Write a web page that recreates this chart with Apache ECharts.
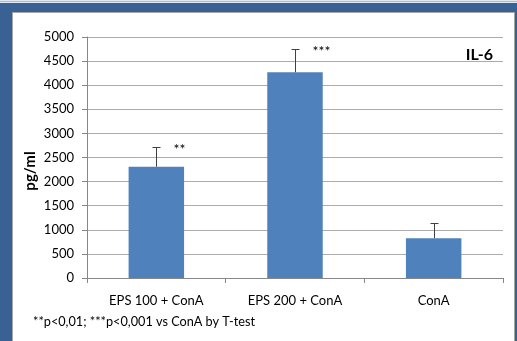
<!DOCTYPE html>
<html>
<head>
<meta charset="utf-8">
<script src="https://cdn.jsdelivr.net/npm/echarts@6/dist/echarts.min.js"></script>
<style>
  html, body { margin: 0; padding: 0; background: #ffffff; }
  #chart { width: 517px; height: 341px; }
</style>
</head>
<body>
<div id="chart"></div>
<script>
// IL-6 production (pg/ml) after ConA stimulation, with/without EPS
const categories = ['EPS 100 + ConA', 'EPS 200 + ConA', 'ConA'];
const means = [2310, 4270, 826];
const sd = [400, 490, 324];
const marks = ['**', '***', ''];
const yTicks = { min: 0, max: 5000, interval: 500 };

const FONT = 'Lato, "Open Sans", sans-serif';
const FRAME_BLUE = '#3a6194';

const errorData = categories.map((c, i) => [i, means[i] + sd[i], means[i], marks[i]]);

const chart = echarts.init(document.getElementById('chart'), null, { renderer: 'canvas' });

chart.setOption({
  backgroundColor: FRAME_BLUE,
  animation: false,
  graphic: [
    // light strip along the top edge
    { type: 'rect', shape: { x: 0, y: 0, width: 517, height: 3 }, style: { fill: '#dfe7f1' }, z: -10 },
    { type: 'rect', shape: { x: 0, y: 1, width: 517, height: 1 }, style: { fill: '#aabfd8' }, z: -10 },
    // white panel
    { type: 'rect', shape: { x: 12.5, y: 12.5, width: 502, height: 340 },
      style: { fill: '#ffffff', stroke: '#a6a6a6', lineWidth: 1 }, z: -9 },
    // y axis title
    { type: 'text', x: 30, y: 171, rotation: Math.PI / 2,
      style: { text: 'pg/ml', font: 'bold 15px ' + FONT, fill: '#000000',
               textAlign: 'center', textVerticalAlign: 'middle' } },
    // panel label
    { type: 'text', x: 493, y: 55,
      style: { text: 'IL-6', font: 'bold 16px ' + FONT, fill: '#000000',
               textAlign: 'right', textVerticalAlign: 'middle' } },
    // footnote
    { type: 'text', x: 33, y: 322,
      style: { text: '**p<0,01; ***p<0,001 vs ConA by T-test', font: '12.7px ' + FONT, fill: '#000000',
               textAlign: 'left', textVerticalAlign: 'middle' } }
  ],
  grid: { left: 87, right: 14, top: 37, height: 241, containLabel: false },
  xAxis: {
    type: 'category',
    data: categories,
    axisLine: { show: true, lineStyle: { color: '#878787', width: 1 } },
    axisTick: { show: true, length: 5, lineStyle: { color: '#878787' } },
    axisLabel: { color: '#000000', fontFamily: FONT, fontSize: 13, margin: 16 },
    splitLine: { show: false }
  },
  yAxis: {
    type: 'value',
    min: yTicks.min, max: yTicks.max, interval: yTicks.interval,
    axisLine: { show: true, lineStyle: { color: '#878787', width: 1 } },
    axisTick: { show: true, length: 5, lineStyle: { color: '#878787' } },
    axisLabel: { color: '#000000', fontFamily: FONT, fontSize: 13, margin: 13,
                 formatter: function (v) { return String(v); } },
    splitLine: { show: true, lineStyle: { color: '#acacac', width: 1 } }
  },
  series: [
    {
      type: 'bar',
      data: means,
      barWidth: '40%',
      itemStyle: { color: '#4f81bd' },
      z: 2
    },
    {
      type: 'custom',
      data: errorData,
      z: 3,
      renderItem: function (params, api) {
        const base = api.coord([api.value(0), api.value(2)]);
        const top = api.coord([api.value(0), api.value(1)]);
        const x = Math.round(base[0]) + 0.5;
        const yTop = Math.round(top[1]) + 0.5;
        const stroke = { stroke: '#404040', lineWidth: 1 };
        const mark = errorData[params.dataIndex][3];
        return {
          type: 'group',
          children: [
            { type: 'line', shape: { x1: x, y1: base[1], x2: x, y2: yTop }, style: stroke },
            { type: 'line', shape: { x1: x - 4, y1: yTop, x2: x + 4, y2: yTop }, style: stroke },
            { type: 'text', x: x + 17, y: yTop + 2,
              style: { text: mark, font: '14px ' + FONT, fill: '#000000',
                       textAlign: 'left', textVerticalAlign: 'middle' } }
          ]
        };
      }
    }
  ]
});
</script>
</body>
</html>
